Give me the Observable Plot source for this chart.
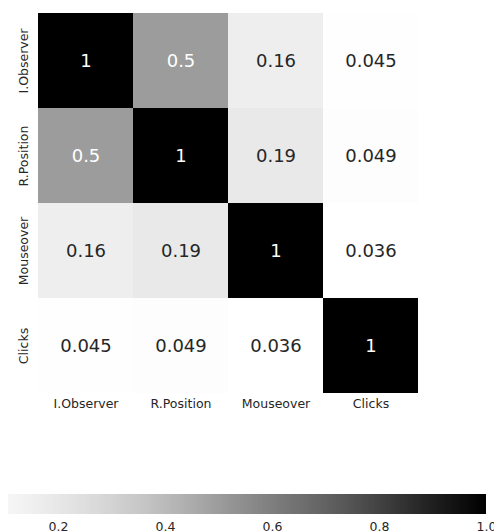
<!DOCTYPE html>
<html><head><meta charset="utf-8">
<script src="https://cdn.jsdelivr.net/npm/d3@7"></script>
<script src="https://cdn.jsdelivr.net/npm/@observablehq/plot@0.6"></script>
<style>body{margin:0;background:#fff;font-family:"DejaVu Sans";} svg{display:block}</style>
</head><body><div id="chart"></div>
<script>
const labels = ["I.Observer", "R.Position", "Mouseover", "Clicks"];
const corrIObserver = [1, 0.5, 0.16, 0.045];
const corrRPosition = [0.5, 1, 0.19, 0.049];
const corrMouseover = [0.16, 0.19, 1, 0.036];
const corrClicks = [0.045, 0.049, 0.036, 1];
const colorbarTicks = [0.2, 0.4, 0.6, 0.8, 1.0];
const colorDomain = [0.036, 1];

const matrix = [corrIObserver, corrRPosition, corrMouseover, corrClicks];
const cells = [];
matrix.forEach((row, i) => row.forEach((v, j) => cells.push({row: labels[i], col: labels[j], value: v})));

const color = {type: "linear", scheme: "greys", domain: colorDomain};
const style = {fontFamily: "DejaVu Sans", fontSize: "12.5px", color: "#262626", background: "white"};

const heat = Plot.plot({
  width: 494, height: 420,
  marginLeft: 37, marginRight: 76, marginTop: 12, marginBottom: 27,
  style,
  x: {domain: labels, padding: 0, tickSize: 0, tickPadding: 6, label: null},
  y: {domain: labels, padding: 0, axis: null},
  color,
  marks: [
    Plot.cell(cells, {x: "col", y: "row", fill: "value"}),
    Plot.text(cells.filter(d => d.value > 0.4), {x: "col", y: "row", text: d => String(d.value), fill: "white", fontSize: 18}),
    Plot.text(cells.filter(d => d.value <= 0.4), {x: "col", y: "row", text: d => String(d.value), fill: "#262626", fontSize: 18}),
    Plot.text(labels, {y: d => d, frameAnchor: "left", textAnchor: "middle", dx: -14, rotate: -90, fontSize: 12.5, fill: "#262626"})
  ]
});

const stops = d3.range(colorDomain[0], colorDomain[1], 0.004);
const bar = Plot.plot({
  width: 494, height: 111,
  marginLeft: 8, marginRight: 8, marginTop: 74, marginBottom: 17,
  style,
  x: {domain: colorDomain, range: [-29.7, 486], ticks: colorbarTicks, tickFormat: d3.format(".1f"), tickSize: 0, tickPadding: 8, label: null},
  color,
  marks: [
    Plot.rect(stops, {x1: d => d, x2: d => Math.min(d + 0.01, 1), fill: d => d + 0.002, clip: true, shapeRendering: "crispEdges"})
  ]
});

document.getElementById("chart").append(heat, bar);
</script>
</body></html>
